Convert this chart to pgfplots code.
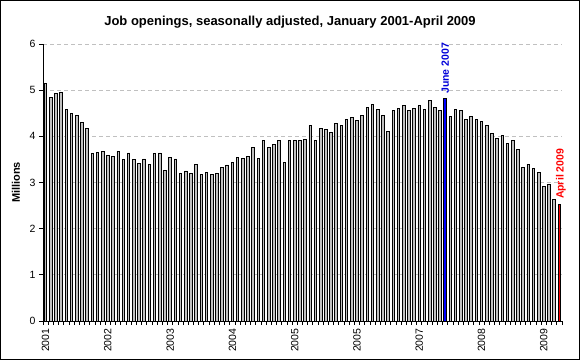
\documentclass[border=0pt]{standalone}
\usepackage{fontspec}
\setmainfont{Liberation Sans}
\usepackage{pgfplots}
\usepackage{pgfplotstable}
\pgfplotsset{compat=1.18}
\definecolor{barfill}{HTML}{C0C0C0}
\definecolor{gridgray}{HTML}{C0C0C0}
\definecolor{juneblue}{HTML}{0000FF}
\definecolor{aprred}{HTML}{FF0000}

\pgfplotstableread{
x y
0 5.14
1 4.85
2 4.92
3 4.94
4 4.59
5 4.50
6 4.46
7 4.31
8 4.16
9 3.62
10 3.66
11 3.68
12 3.59
13 3.57
14 3.68
15 3.49
16 3.64
17 3.49
18 3.42
19 3.51
20 3.40
21 3.62
22 3.64
23 3.27
24 3.55
25 3.51
26 3.20
27 3.25
28 3.20
29 3.40
30 3.18
31 3.22
32 3.18
33 3.20
34 3.33
35 3.38
36 3.44
37 3.55
38 3.53
39 3.57
40 3.75
41 3.53
42 3.90
43 3.75
44 3.83
45 3.92
46 3.44
47 3.92
48 3.90
49 3.92
50 3.94
51 4.24
52 3.92
53 4.18
54 4.14
55 4.09
56 4.27
57 4.24
58 4.37
59 4.40
60 4.35
61 4.46
62 4.63
63 4.68
64 4.59
65 4.46
66 4.11
67 4.55
68 4.61
69 4.66
70 4.55
71 4.61
72 4.66
73 4.59
74 4.77
75 4.63
76 4.57
77 4.81
78 4.42
79 4.59
80 4.57
81 4.37
82 4.42
83 4.37
84 4.33
85 4.24
86 4.07
87 3.96
88 4.01
89 3.85
90 3.92
91 3.72
92 3.33
93 3.40
94 3.31
95 3.22
96 2.92
97 2.96
98 2.64
99 2.53
}\jobdata

\begin{document}
\begin{tikzpicture}
\useasboundingbox (0,0) rectangle (580bp,360bp);
\draw[line width=1bp] (0.5bp,0.5bp) rectangle (579.5bp,359.5bp);
\node[anchor=base, font=\bfseries\fontsize{13bp}{15bp}\selectfont] at (290bp,334bp)
  {Job openings, seasonally adjusted, January 2001-April 2009};
\begin{axis}[
  at={(43bp,39bp)}, anchor=south west,
  scale only axis, width=519bp, height=277bp,
  xmin=-0.5, xmax=99.5, ymin=0, ymax=6,
  clip=false,
  axis x line*=bottom, axis y line*=left,
  axis line style={line width=1bp, -},
  ytick={0,1,...,6},
  ymajorgrids,
  major grid style={gridgray, line width=0.8bp, dash pattern=on 4bp off 3bp},
  xtick={-0.5,0.5,...,99.5},
  xticklabels={},
  extra x ticks={0,12,24,36,48,60,72,84,96},
  extra x tick labels={2001,2002,2003,2004,2005,2005,2007,2008,2009},
  extra x tick style={grid=none, tick style={draw=none},
    tick label style={rotate=90, anchor=east}},
  tick align=outside, major tick length=4bp,
  tick style={black, line width=0.8bp},
  tick label style={font=\fontsize{10.5bp}{12bp}\selectfont},
  /pgf/number format/assume math mode=true,
  ylabel={Millions},
  ylabel style={font=\bfseries\fontsize{11bp}{13bp}\selectfont,
    at={(axis description cs:-0.052,0.5)}, anchor=center},
]
\addplot[ybar, bar width=2.6bp, bar shift=0pt, fill=barfill, draw=black, line width=0.9bp]
  table[x=x, y=y] {\jobdata};
\addplot[ybar, bar width=2.6bp, bar shift=0pt, fill=juneblue, draw=black, line width=0.9bp]
  coordinates {(77,4.81)};
\addplot[ybar, bar width=2.6bp, bar shift=0pt, fill=aprred, draw=black, line width=0.9bp]
  coordinates {(99,2.53)};
\node[rotate=90, anchor=west, inner sep=0pt, inner xsep=5bp, text=juneblue!85!black,
  font=\bfseries\fontsize{10.5bp}{12bp}\selectfont] at (axis cs:77,4.81) {June 2007};
\node[rotate=90, anchor=west, inner sep=0pt, inner xsep=5bp, text=aprred,
  font=\bfseries\fontsize{10.5bp}{12bp}\selectfont] at (axis cs:99.3,2.53) {April 2009};
\end{axis}
\end{tikzpicture}
\end{document}
